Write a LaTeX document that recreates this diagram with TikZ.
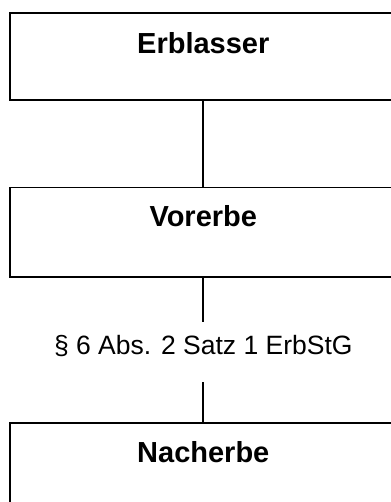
\documentclass[tikz,border=0pt]{standalone}
\usepackage{fontspec}
\setmainfont{Liberation Sans}
\begin{document}
\begin{tikzpicture}[x=1pt,y=1pt,
  box/.style={draw, line width=1.8pt, minimum width=386.6pt, inner xsep=0pt, inner ysep=0pt,
    font=\fontsize{29}{34}\selectfont\bfseries, anchor=north},
  lbl/.style={inner sep=0pt, anchor=north, font=\fontsize{26.5}{31}\selectfont},
  conn/.style={line width=1.8pt}]
\useasboundingbox (0,0) rectangle (390,-502);
\node[box, text height=39.8pt, text depth=46.7pt] (erb) at (203.3,-12.5) {Erblasser};
\node[box, text height=39pt, text depth=50pt] (vor) at (203.3,-186.7) {Vorerbe};
\node[lbl, text height=32.3pt, text depth=27.7pt] (lab) at (203.3,-322) {\S\ 6 Abs. 2 Satz 1 ErbStG};
\node[box, text height=40pt, text depth=90pt] (nach) at (203.3,-421.7) {Nacherbe};
\draw[conn] (erb.south) -- (vor.north);
\draw[conn] (vor.south) -- (lab.north);
\draw[conn] (lab.south) -- (nach.north);
\end{tikzpicture}
\end{document}
